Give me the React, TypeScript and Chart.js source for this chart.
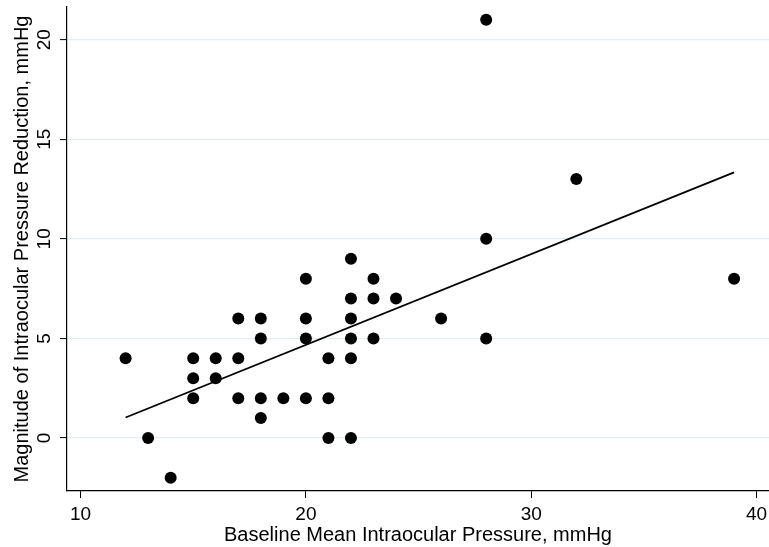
import React, { useEffect, useRef } from "react";
import { Chart, registerables } from "chart.js";

Chart.register(...registerables);

const baselineIOP = [12, 13, 14, 15, 15, 15, 16, 16, 17, 17, 17, 18, 18, 18, 18, 19, 20, 20, 20, 20, 21, 21, 21, 22, 22, 22, 22, 22, 22, 23, 23, 23, 24, 26, 28, 28, 28, 32, 39];
const reductionIOP = [4, 0, -2, 4, 3, 2, 4, 3, 6, 4, 2, 6, 5, 2, 1, 2, 8, 6, 5, 2, 4, 2, 0, 9, 7, 6, 5, 4, 0, 8, 7, 5, 7, 6, 21, 10, 5, 13, 8];
const fitX = [12, 39];
const fitY = [1.03, 13.34];
const xTicks = [10, 20, 30, 40];
const yTicks = [0, 5, 10, 15, 20];
const xTitle = "Baseline Mean Intraocular Pressure, mmHg";
const yTitle = "Magnitude of Intraocular Pressure Reduction, mmHg";

const FONT = '"Liberation Sans", Arial, Helvetica, sans-serif';

const textPlugin = {
  id: "stataText",
  afterDraw(chart: any) {
    const ctx = chart.ctx;
    const xs = chart.scales.x;
    const ys = chart.scales.y;
    const area = chart.chartArea;
    ctx.save();
    ctx.fillStyle = "#000";
    ctx.textAlign = "center";
    ctx.textBaseline = "alphabetic";
    ctx.font = `19px ${FONT}`;
    xTicks.forEach((v) => {
      ctx.fillText(String(v), xs.getPixelForValue(v), 519.5);
    });
    yTicks.forEach((v) => {
      ctx.save();
      ctx.translate(50, ys.getPixelForValue(v));
      ctx.rotate(-Math.PI / 2);
      ctx.fillText(String(v), 0, 0);
      ctx.restore();
    });
    ctx.font = `20px ${FONT}`;
    ctx.fillText(xTitle, (area.left + area.right) / 2, 541);
    ctx.save();
    ctx.translate(27.5, (area.top + area.bottom) / 2);
    ctx.rotate(-Math.PI / 2);
    ctx.fillText(yTitle, 0, 0);
    ctx.restore();
    ctx.restore();
  },
};

export default function App() {
  const ref = useRef<HTMLCanvasElement | null>(null);
  useEffect(() => {
    document.body.style.margin = "0";
    const canvas = ref.current!;
    const chart = new Chart(canvas, {
      type: "scatter",
      data: {
        datasets: [
          {
            type: "line",
            label: "fit",
            data: fitX.map((x, i) => ({ x, y: fitY[i] })),
            borderColor: "#000",
            borderWidth: 1.8,
            pointRadius: 0,
            fill: false,
            order: 2,
          } as any,
          {
            label: "points",
            data: baselineIOP.map((x, i) => ({ x, y: reductionIOP[i] })),
            backgroundColor: "#000",
            borderColor: "#000",
            pointRadius: 6,
            pointBorderWidth: 0,
            order: 1,
          },
        ],
      },
      options: {
        animation: false,
        responsive: false,
        maintainAspectRatio: false,
        layout: { autoPadding: false, padding: { top: 7, right: 0, left: 0, bottom: 0 } },
        plugins: { legend: { display: false }, tooltip: { enabled: false } },
        scales: {
          x: {
            type: "linear",
            min: 9.4,
            max: 40.55,
            afterBuildTicks: (s: any) => {
              s.ticks = xTicks.map((v) => ({ value: v }));
            },
            afterFit: (s: any) => {
              s.height = 56;
            },
            ticks: { display: false },
            grid: {
              drawOnChartArea: false,
              drawTicks: true,
              tickLength: 7,
              tickColor: "#000",
              tickWidth: 1,
            },
            border: { display: true, color: "#000", width: 1.2 },
          },
          y: {
            type: "linear",
            min: -2.66,
            max: 21.64,
            afterBuildTicks: (s: any) => {
              s.ticks = yTicks.map((v) => ({ value: v }));
            },
            afterFit: (s: any) => {
              s.width = 67;
            },
            ticks: { display: false },
            grid: {
              drawOnChartArea: true,
              color: "#e3eef2",
              lineWidth: 1.2,
              drawTicks: true,
              tickLength: 7,
              tickColor: "#000",
              tickWidth: 1,
            },
            border: { display: true, color: "#000", width: 1.2 },
          },
        },
      },
      plugins: [textPlugin],
    });
    return () => chart.destroy();
  }, []);
  return (
    <div style={{ position: "absolute", left: 0, top: 0, width: 769, height: 547, background: "#fff" }}>
      <canvas ref={ref} width={769} height={547} style={{ width: 769, height: 547, display: "block" }} />
    </div>
  );
}
